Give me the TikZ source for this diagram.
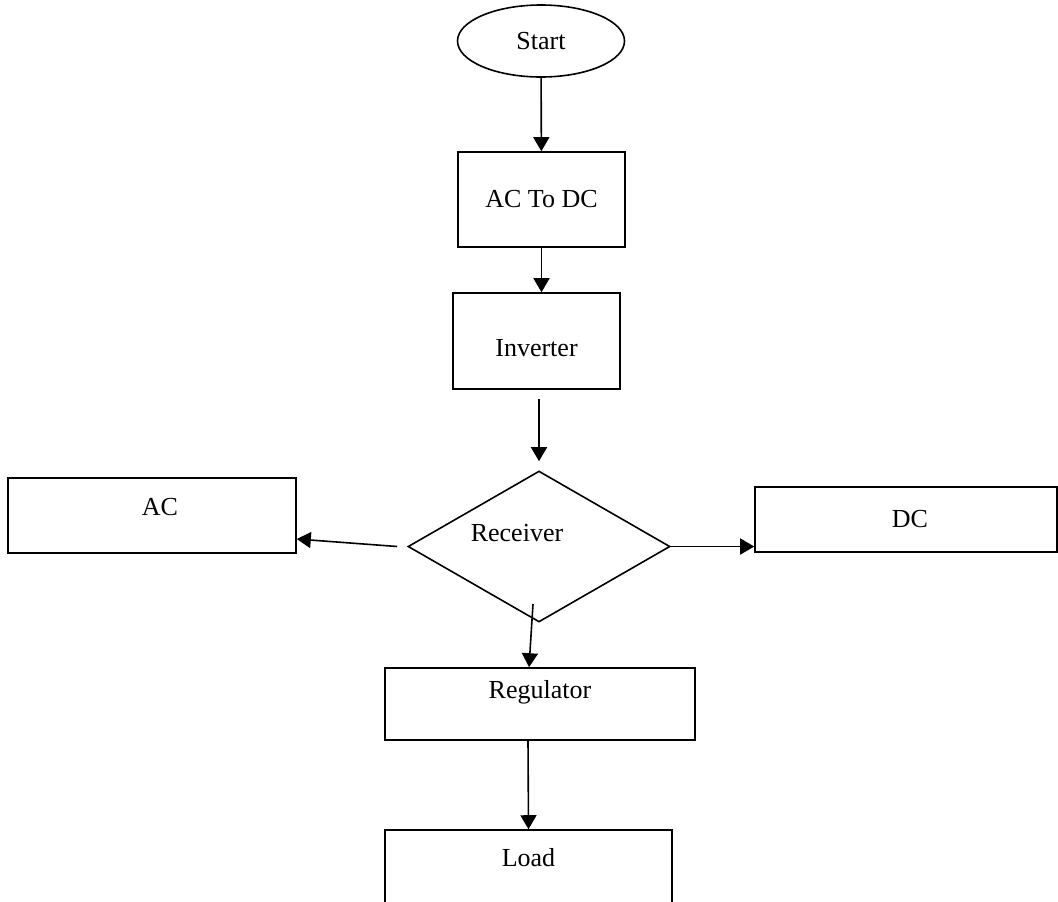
\documentclass[tikz,border=0pt]{standalone}
\usepackage{fontspec}
\setmainfont{Liberation Serif}
\usetikzlibrary{shapes.geometric,arrows.meta,positioning}
\tikzset{bx/.style={draw,line width=0.8pt,inner sep=0pt,font=\fontsize{13}{15}\selectfont},
 el/.style={bx,ellipse,minimum width=83.5pt,minimum height=36pt},
 dm/.style={bx,diamond,aspect=1.735,minimum width=131pt,minimum height=75.5pt},
 tx/.style={font=\fontsize{13}{15}\selectfont,inner sep=0pt},
 ar/.style={line width=0.8pt,-{Triangle[length=7pt,width=8pt]}}}
\begin{document}
\begin{tikzpicture}[x=0.5pt,y=-0.5pt]
\useasboundingbox (0,0) rectangle (1058,901);\clip (0,0) rectangle (1058,901);
\node[el](start) at (541,41){Start};
\node[bx,minimum width=83.5pt,minimum height=47.5pt](acdc) at (541.5,199.5){AC To DC};
\node[bx,minimum width=83.5pt,minimum height=48pt,label={[tx,yshift=-3.5pt]center:Inverter}](inv) at (536.5,341){};
\node[dm,label={[tx,xshift=-11pt,yshift=6.75pt]center:Receiver}](rcv) at (539,546.5){};
\node[bx,minimum width=144pt,minimum height=37.5pt,label={[tx,xshift=4pt,yshift=4.25pt]center:AC}](ac) at (152,515.5){};
\node[bx,minimum width=151pt,minimum height=32.5pt,label={[tx,xshift=2pt]center:DC}](dc) at (906,519.5){};
\node[bx,minimum width=155pt,minimum height=36pt,label={[tx,yshift=6pt]center:Regulator}](reg) at (540,704){};
\node[bx,minimum width=143.5pt,minimum height=40pt,label={[tx,yshift=6pt]center:Load}](load) at (528.5,870){};
\draw[ar](start)--(acdc);\draw[ar](acdc.south)--(acdc.south|-inv.north);
\draw[ar,shorten <=4.5pt,shorten >=4.5pt](rcv.north|-inv.south)--(rcv.north);
\draw[ar]([xshift=-5pt]rcv.west)--([yshift=-11.75pt]ac.east);\draw[ar](rcv.east)--(rcv.east-|dc.west);
\draw[ar]([xshift=-3pt,yshift=-28.75pt]rcv.center)--([xshift=-5.5pt]reg.north);
\draw[ar]([xshift=-6pt]reg.south)--(load.north);
\end{tikzpicture}
\end{document}
